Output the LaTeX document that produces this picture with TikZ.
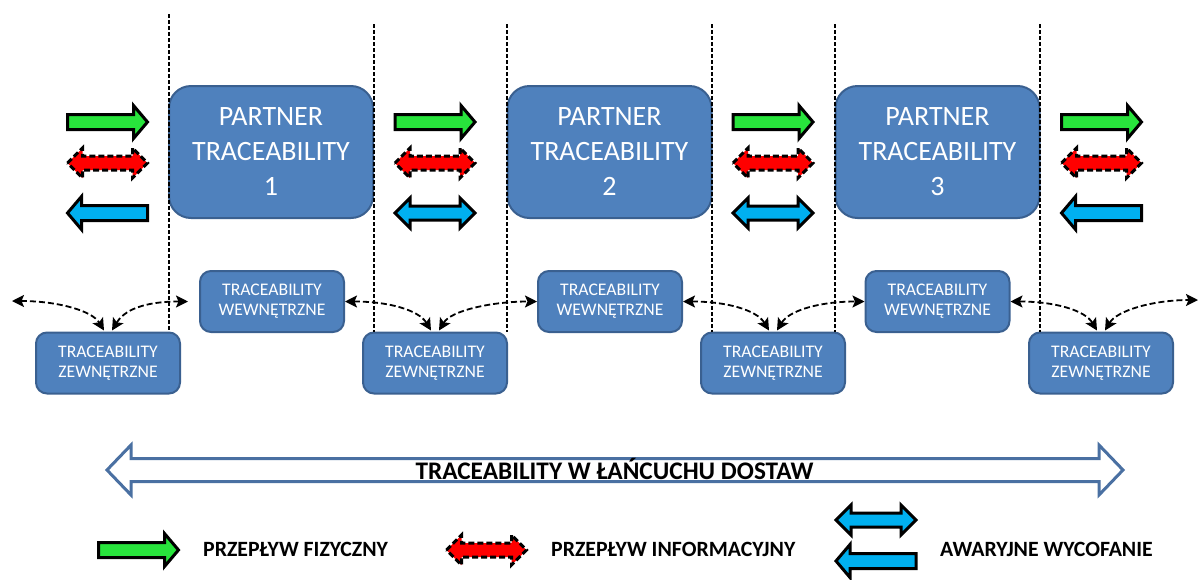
\documentclass[tikz,border=0pt]{standalone}
\usepackage{fontspec}
\setmainfont{Carlito}
\usetikzlibrary{arrows.meta,calc}

\definecolor{boxfill}{HTML}{4F81BD}
\definecolor{boxline}{HTML}{3A6090}
\definecolor{flowgreen}{RGB}{40,228,60}
\definecolor{flowred}{RGB}{255,0,0}
\definecolor{flowblue}{HTML}{00B0F0}
\definecolor{bandline}{HTML}{4A70A2}

\tikzset{
  partner/.style={draw=boxline, line width=2pt, fill=boxfill, rounded corners=22pt,
    minimum width=204pt, minimum height=132pt, text=white, inner sep=0pt,
    font=\fontsize{28}{35}\selectfont, align=center},
  level/.style={draw=boxline, line width=2pt, fill=boxfill, rounded corners=11pt,
    minimum width=144pt, minimum height=61pt, text=white, inner sep=0pt,
    font=\fontsize{17.7}{20}\selectfont, align=center},
  divider/.style={black, line width=1.2pt, dash pattern=on 4pt off 2pt},
  link/.style={{Stealth[length=12pt,width=12pt,inset=2.5pt]}-{Stealth[length=12pt,width=12pt,inset=2.5pt]},
    black, line width=1.8pt, dash pattern=on 6pt off 3pt},
  blockline/.style={draw=black, line width=3pt, line join=miter},
  band/.style={draw=bandline, line width=3pt, fill=white, line join=miter},
  legend/.style={anchor=west, inner sep=0pt, font=\bfseries\fontsize{21.8}{26}\selectfont},
  pics/fwdarrow/.style={code={
    \path[blockline, fill=#1] (-40,-7.5) -- (26,-7.5) -- (26,-16.5) -- (40,0)
      -- (26,16.5) -- (26,7.5) -- (-40,7.5) -- cycle;}},
  pics/backarrow/.style={code={
    \path[blockline, fill=#1] (40,-7.5) -- (-26,-7.5) -- (-26,-16.5) -- (-40,0)
      -- (-26,16.5) -- (-26,7.5) -- (40,7.5) -- cycle;}},
  pics/botharrow/.style 2 args={code={
    \path[blockline, fill=#1, #2] (-40,0) -- (-25,-15) -- (-25,-7) -- (25,-7)
      -- (25,-15) -- (40,0) -- (25,15) -- (25,7) -- (-25,7) -- (-25,15) -- cycle;}},
}

\begin{document}
\begin{tikzpicture}[x=1pt,y=-1pt]
\useasboundingbox (0,0) rectangle (1200,579);

% partners
\node[partner] (p1) at (271,152)   {PARTNER\\TRACEABILITY\\1};
\node[partner] (p2) at (609.5,152) {PARTNER\\TRACEABILITY\\2};
\node[partner] (p3) at (937.5,152) {PARTNER\\TRACEABILITY\\3};

% internal traceability
\node[level] (w1) at (272,301.5)   {TRACEABILITY\\WEWNĘTRZNE};
\node[level] (w2) at (610,301.5)   {TRACEABILITY\\WEWNĘTRZNE};
\node[level] (w3) at (937.5,301.5) {TRACEABILITY\\WEWNĘTRZNE};

% external traceability
\node[level] (z1) at (108,363)  {TRACEABILITY\\ZEWNĘTRZNE};
\node[level] (z2) at (435,363)  {TRACEABILITY\\ZEWNĘTRZNE};
\node[level] (z3) at (773,363)  {TRACEABILITY\\ZEWNĘTRZNE};
\node[level] (z4) at (1101,363) {TRACEABILITY\\ZEWNĘTRZNE};

% dividers between the partners
\foreach \x/\t/\b in {169/14/z1, 374/24/z2, 507/24/z2, 712/24/z3, 835/24/z3, 1040/24/z4}
  \draw[divider] (\x,\t) coordinate (d) -- (d |- \b.north);

% flows between the partners
\foreach \c in {107.5, 435, 773, 1101.5}{
  \pic at (\c,122) {fwdarrow=flowgreen};
  \pic at (\c,163) {botharrow={flowred}{dash pattern=on 6pt off 3pt}};
}
\pic at (107.5,213) {backarrow=flowblue};
\pic at (435,213)   {botharrow={flowblue}{}};
\pic at (773,213)   {botharrow={flowblue}{}};
\pic at (1101.5,213) {backarrow=flowblue};

% links between internal and external traceability
\coordinate (e0) at (12,301);
\coordinate (e1) at (188,301.5);
\coordinate (e5) at (1198,300);
\draw[link] (e0) .. controls +(45,0) and +(-12,-20) .. ($(z1.north)+(-4,-1)$);
\draw[link] ($(z1.north)+(4,-1)$) .. controls +(12,-20) and +(-45,0) .. (e1);
\draw[link] (w1.east) .. controls +(45,0) and +(-12,-20) .. ($(z2.north)+(-4,-1)$);
\draw[link] ($(z2.north)+(4,-1)$) .. controls +(12,-20) and +(-45,0) .. (w2.west);
\draw[link] (w2.east) .. controls +(45,0) and +(-12,-20) .. ($(z3.north)+(-4,-1)$);
\draw[link] ($(z3.north)+(4,-1)$) .. controls +(12,-20) and +(-45,0) .. (w3.west);
\draw[link] (w3.east) .. controls +(45,0) and +(-12,-20) .. ($(z4.north)+(-4,-1)$);
\draw[link] ($(z4.north)+(4,-1)$) .. controls +(12,-20) and +(-45,0) .. (e5);

% supply chain band
\path[band] (107,470) -- (131,445) -- (131,458.5) -- (1099,458.5) -- (1099,445)
  -- (1123,470) -- (1099,495) -- (1099,481.5) -- (131,481.5) -- (131,495) -- cycle;
\node[inner sep=0pt, font=\bfseries\fontsize{25.3}{30}\selectfont] (chain) at (614.5,469)
  {TRACEABILITY W ŁAŃCUCHU DOSTAW};

% legend
\pic at (138.5,550) {fwdarrow=flowgreen};
\node[legend] (l1) at (203,549) {PRZEPŁYW FIZYCZNY};
\pic at (486.5,550) {botharrow={flowred}{dash pattern=on 6pt off 3pt}};
\node[legend] (l2) at (551,549) {PRZEPŁYW INFORMACYJNY};
\pic at (876,520) {botharrow={flowblue}{}};
\pic at (876,561) {backarrow=flowblue};
\node[legend] (l3) at (940,549) {AWARYJNE WYCOFANIE};
\end{tikzpicture}
\end{document}
